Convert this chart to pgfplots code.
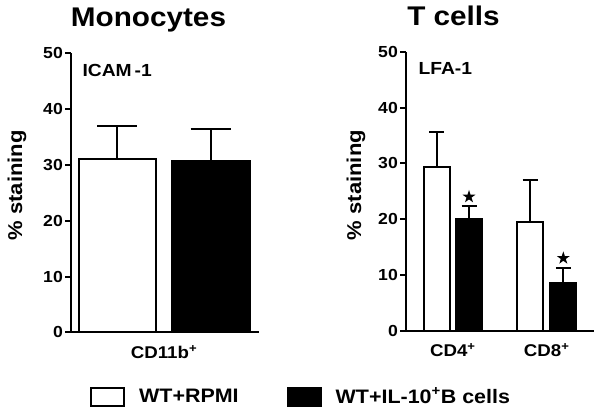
\documentclass[border=0pt]{standalone}
\usepackage{pgfplots}
\pgfplotsset{compat=1.18}
\usepackage{fontspec}
\setmainfont{Liberation Sans}[FakeStretch=1.1]
\usetikzlibrary{shapes.geometric}

% filled five-point star for significance marks
\pgfdeclareplotmark{fstar}{\node[star,star points=5,star point ratio=2.6,fill=black,draw=none,inner sep=0pt,minimum size=2\pgfplotmarksize]{};}

\pgfplotsset{
  panel/.style={
    scale only axis, width=188pt, height=279pt,
    xmin=0, xmax=188, ymin=0, ymax=50,
    clip=false,
    axis lines=left,
    axis line style={-, line width=2pt},
    every outer x axis line/.append style={-},
    every outer y axis line/.append style={-},
    ytick={0,10,...,50},
    tick align=outside, major tick length=6pt,
    ytick style={line width=2pt, black},
    xtick style={draw=none},
    /pgf/number format/assume math mode=true,
    yticklabel style={font=\fontsize{16}{16}\selectfont\bfseries, anchor=east, inner sep=0pt, xshift=-2pt},
    xticklabel style={font=\fontsize{17}{17}\selectfont\bfseries, anchor=base, yshift=-20pt},
    title style={font=\fontsize{27}{27}\selectfont\bfseries, anchor=base},
    axis on top,
  },
  wbar/.style={ybar, bar shift=0pt, draw=black, fill=white, line width=2pt},
  bbar/.style={ybar, bar shift=0pt, draw=black, fill=black, line width=2pt},
  errs/.style={error bars/.cd, y dir=plus, y explicit,
    error bar style={line width=2pt, black},
    error mark options={rotate=90, mark size=#1, line width=2pt, black}},
}
\tikzset{ylabnode/.style={rotate=90, anchor=center, inner sep=0pt, font=\fontsize{20}{20}\selectfont\bfseries}}

\begin{document}
\begin{tikzpicture}
\useasboundingbox (0pt,0pt) rectangle (601pt,-414pt);

% Monocytes
\begin{axis}[panel, at={(71pt,-332.3pt)}, anchor=south west,
    title={Monocytes},
    title style={at={(axis description cs:0.412,1.0752)}},
    xtick={93}, xticklabels={CD11b\textsuperscript{+}},
  ]
  \addplot[wbar, bar width=76.7, errs=20pt] coordinates {(46.3,31.0) +- (0,5.9)};
  \addplot[bbar, bar width=78, errs=20pt] coordinates {(139.7,30.7) +- (0,5.7)};
  \node[anchor=base west, font=\fontsize{17.5}{17.5}\selectfont\bfseries] at (axis description cs:0.0426,0.9177) {ICAM\kern3pt-1};
  \node[ylabnode] at (axis description cs:-0.287,0.527) {\% staining};
\end{axis}

% T cells
\begin{axis}[panel, at={(406pt,-330.7pt)}, anchor=south west,
    title={T cells},
    title style={at={(axis description cs:0.2527,1.071)}},
    xtick={46.85,140.65}, xticklabels={CD4\textsuperscript{+},CD8\textsuperscript{+}},
    legend columns=2,
    legend style={at={(axis description cs:-1.681,-0.2394)}, anchor=west,
      draw=none, inner sep=0pt, fill=none,
      font=\fontsize{19.5}{19.5}\selectfont\bfseries,
      /tikz/every odd column/.append style={column sep=14pt},
      /tikz/every even column/.append style={column sep=48pt},
      nodes={inner sep=0pt}},
    legend image code/.code={\draw[#1, line width=2pt] (1pt,-10pt) rectangle (34pt,8pt);},
  ]
  \addplot[wbar, bar width=26, errs=7.5pt] coordinates {(30.7,29.3) +- (0,6.3) (124,19.4) +- (0,7.6)};
  \addplot[bbar, bar width=26, errs=7.5pt] coordinates {(63,20.0) +- (0,2.3) (157.3,8.5) +- (0,2.8)};
  \addplot[only marks, mark=fstar, mark size=6.8pt, forget plot] coordinates {(63,24.0) (157.3,13.0)};
  \node[anchor=base west, font=\fontsize{17.5}{17.5}\selectfont\bfseries] at (axis description cs:0.048,0.92) {LFA-1};
  \node[ylabnode] at (axis description cs:-0.266,0.522) {\% staining};
  \legend{WT+RPMI, WT+IL-10\textsuperscript{+}B cells}
\end{axis}
\end{tikzpicture}
\end{document}
